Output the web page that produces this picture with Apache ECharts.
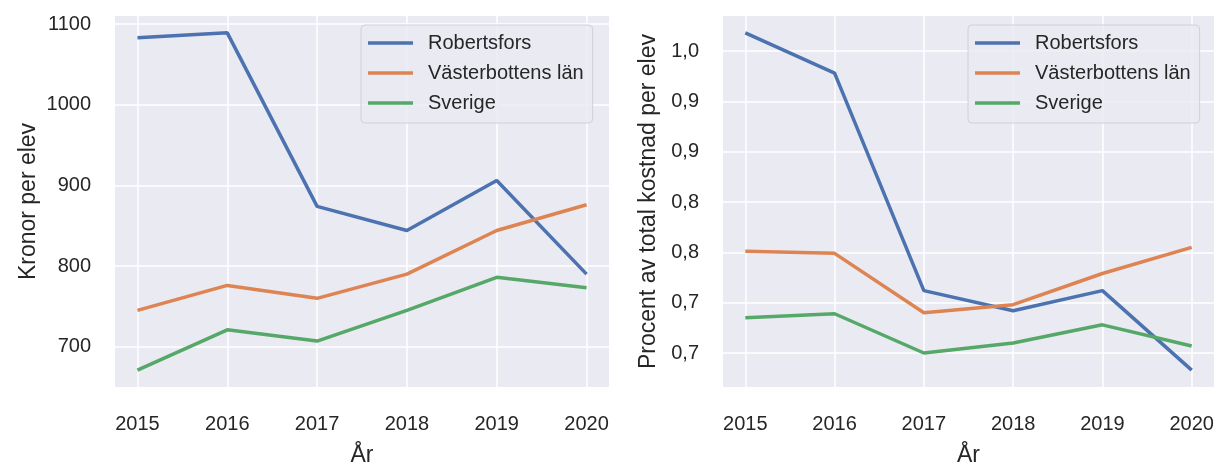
<!DOCTYPE html>
<html>
<head>
<meta charset="utf-8">
<script src="https://cdn.jsdelivr.net/npm/echarts@6/dist/echarts.min.js"></script>
<style>
html,body{margin:0;padding:0;background:#fff;}
#c{width:1217px;height:464px;}
</style>
</head>
<body>
<div id="c"></div>
<script>
const years = [2015, 2016, 2017, 2018, 2019, 2020];
const seriesNames = ['Robertsfors', 'Västerbottens län', 'Sverige'];

const kronorRobertsfors = [1083, 1089, 874, 844, 906, 790];
const kronorVasterbotten = [745, 776, 760, 790, 844, 876];
const kronorSverige = [671, 721, 707, 745, 786, 773];

const procentRobertsfors = [1.018, 0.978, 0.762, 0.742, 0.762, 0.683];
const procentVasterbotten = [0.801, 0.799, 0.740, 0.748, 0.779, 0.805];
const procentSverige = [0.735, 0.739, 0.700, 0.710, 0.728, 0.707];

const leftTicks = [700, 800, 900, 1000, 1100];
const rightTicks = [0.70, 0.75, 0.80, 0.85, 0.90, 0.95, 1.00];
const rightTickLabels = ['0,7', '0,7', '0,8', '0,8', '0,9', '0,9', '1,0'];

const colors = ['#4C72B0', '#DD8452', '#55A868'];
const FONT = 'Liberation Sans, Arial, sans-serif';
const TXT = '#262626';

function bounds(arrs) {
  const all = [].concat(...arrs);
  const mn = Math.min(...all), mx = Math.max(...all);
  const m = (mx - mn) * 0.05;
  return [mn - m, mx + m];
}
const lb = bounds([kronorRobertsfors, kronorVasterbotten, kronorSverige]);
const rb = bounds([procentRobertsfors, procentVasterbotten, procentSverige]);
const xMin = years[0] - (years[years.length-1] - years[0]) * 0.05;
const xMax = years[years.length-1] + (years[years.length-1] - years[0]) * 0.05;

function xAxis(gi) {
  return {
    type: 'value', gridIndex: gi, min: xMin, max: xMax,
    name: 'År', nameLocation: 'middle', nameGap: 57,
    nameTextStyle: {fontFamily: FONT, fontSize: 23, color: TXT},
    axisLine: {show: false}, axisTick: {show: false, customValues: years},
    axisLabel: {customValues: years, fontFamily: FONT, fontSize: 20, color: TXT, margin: 27,
      formatter: v => String(v)},
    splitLine: {show: true, lineStyle: {color: '#fff', width: 1.5}}
  };
}
function yAxis(gi, b, ticks, fmt, name, gap) {
  return {
    type: 'value', gridIndex: gi, min: b[0], max: b[1],
    name: name, nameLocation: 'middle', nameGap: gap,
    nameTextStyle: {fontFamily: FONT, fontSize: 23, color: TXT},
    axisLine: {show: false}, axisTick: {show: false, customValues: ticks},
    axisLabel: {customValues: ticks, fontFamily: FONT, fontSize: 20, color: TXT, margin: 24, formatter: fmt},
    splitLine: {show: true, lineStyle: {color: '#fff', width: 1.5}}
  };
}
function mk(name, data, ci, xi) {
  return {
    name: name, type: 'line', xAxisIndex: xi, yAxisIndex: xi,
    data: years.map((y, i) => [y, data[i]]),
    symbol: 'none', smooth: false,
    lineStyle: {color: colors[ci], width: 3.5},
    itemStyle: {color: colors[ci]},
    emphasis: {disabled: true}, animation: false
  };
}
function legend(left) {
  return {
    data: seriesNames, orient: 'vertical', left: left, top: 25,
    icon: 'rect', itemWidth: 45, itemHeight: 3.5, itemGap: 10,
    backgroundColor: 'rgba(234,234,242,0.85)', borderColor: '#d0d0d8', borderWidth: 1, borderRadius: 4,
    padding: [8, 9, 10, 7],
    textStyle: {fontFamily: FONT, fontSize: 20, color: TXT, padding: [0, 0, 0, 10]}
  };
}

const chart = echarts.init(document.getElementById('c'), null, {renderer: 'canvas'});
chart.setOption({
  backgroundColor: '#fff',
  animation: false,
  grid: [
    {left: 115, top: 16, width: 494, height: 371, backgroundColor: '#EAEAF2', show: true, borderWidth: 0,
      containLabel: false, outerBoundsMode: 'none'},
    {left: 723, top: 16, width: 491, height: 371, backgroundColor: '#EAEAF2', show: true, borderWidth: 0,
      containLabel: false, outerBoundsMode: 'none'}
  ],
  legend: [legend(361), legend(968)],
  xAxis: [xAxis(0), xAxis(1)],
  yAxis: [
    yAxis(0, lb, leftTicks, v => String(Math.round(v)), 'Kronor per elev', 75),
    yAxis(1, rb, rightTicks, v => {
      const i = rightTicks.findIndex(t => Math.abs(t - v) < 1e-6);
      return i >= 0 ? rightTickLabels[i] : '';
    }, 'Procent av total kostnad per elev', 63)
  ],
  series: [
    mk(seriesNames[0], kronorRobertsfors, 0, 0),
    mk(seriesNames[1], kronorVasterbotten, 1, 0),
    mk(seriesNames[2], kronorSverige, 2, 0),
    mk(seriesNames[0], procentRobertsfors, 0, 1),
    mk(seriesNames[1], procentVasterbotten, 1, 1),
    mk(seriesNames[2], procentSverige, 2, 1)
  ]
});
</script>
</body>
</html>
